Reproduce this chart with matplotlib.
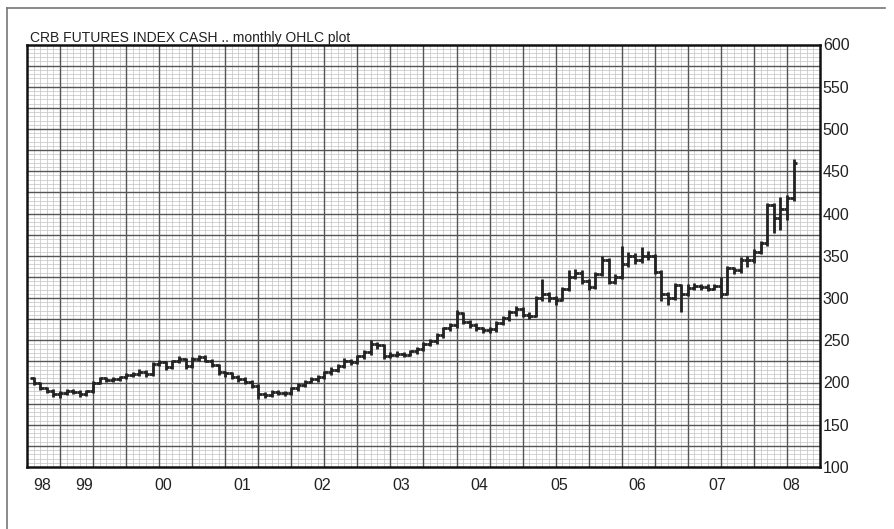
import matplotlib
matplotlib.use("Agg")
import matplotlib.pyplot as plt
from matplotlib.lines import Line2D
import numpy as np

plt.rcParams['font.family'] = ['Liberation Sans', 'DejaVu Sans']

# monthly OHLC values, month index 1..116
opens = [
    205, 199, 193, 190, 186, 188, 190, 189, 186, 190,
    200, 205, 203, 204, 206, 209, 210, 213, 210, 222,
    224, 218, 225, 228, 219, 228, 230, 226, 221, 212,
    211, 207, 204, 201, 196, 186, 185, 189, 188, 187,
    193, 197, 201, 204, 207, 212, 215, 220, 226, 224,
    231, 236, 246, 244, 231, 233, 234, 233, 237, 240,
    246, 249, 256, 264, 268, 282, 272, 268, 264, 262,
    263, 271, 276, 283, 287, 280, 279, 300, 305, 300,
    298, 311, 325, 330, 320, 313, 328, 345, 319, 325,
    340, 350, 345, 350, 350, 331, 305, 300, 315, 305,
    312, 314, 313, 311, 314, 305, 335, 333, 345, 345,
    355, 365, 410, 395, 405, 418,
]
highs = [
    207, 201, 195, 192, 190, 192, 192, 191, 191, 202,
    207, 207, 206, 208, 211, 212, 216, 215, 224, 227,
    226, 227, 231, 229, 230, 233, 232, 228, 222, 214,
    213, 209, 206, 203, 198, 189, 191, 191, 190, 195,
    199, 203, 206, 209, 214, 218, 222, 229, 228, 233,
    238, 250, 248, 246, 236, 237, 236, 239, 242, 248,
    252, 258, 266, 271, 286, 284, 274, 270, 266, 266,
    273, 279, 286, 290, 289, 283, 302, 323, 307, 302,
    313, 333, 334, 333, 322, 331, 350, 347, 328, 362,
    355, 353, 360, 356, 352, 333, 307, 318, 317, 316,
    318, 317, 316, 317, 325, 338, 337, 348, 350, 358,
    368, 413, 412, 420, 422, 465,
]
lows = [
    197, 191, 187, 183, 182, 185, 186, 183, 184, 188,
    198, 201, 201, 202, 204, 207, 208, 207, 208, 220,
    215, 216, 223, 216, 217, 226, 224, 218, 209, 207,
    204, 201, 198, 193, 181, 182, 183, 185, 184, 185,
    190, 195, 199, 201, 204, 209, 212, 217, 221, 222,
    228, 233, 240, 228, 229, 230, 230, 231, 234, 237,
    243, 246, 253, 261, 265, 269, 265, 261, 259, 259,
    260, 268, 273, 279, 277, 275, 277, 296, 295, 292,
    296, 308, 322, 317, 309, 311, 326, 316, 316, 322,
    337, 340, 342, 345, 328, 296, 292, 298, 284, 302,
    310, 309, 308, 309, 300, 303, 328, 330, 337, 342,
    352, 362, 377, 380, 392, 415,
]
closes = [
    199, 193, 190, 186, 188, 190, 189, 186, 190, 200,
    205, 203, 204, 206, 209, 210, 213, 210, 222, 224,
    218, 225, 228, 219, 228, 230, 226, 221, 212, 211,
    207, 204, 201, 196, 186, 185, 189, 188, 187, 193,
    197, 201, 204, 207, 212, 215, 220, 226, 224, 231,
    236, 246, 244, 231, 233, 234, 233, 237, 240, 246,
    249, 256, 264, 268, 282, 272, 268, 264, 262, 263,
    271, 276, 283, 287, 280, 279, 300, 305, 300, 298,
    311, 325, 330, 320, 313, 328, 345, 319, 325, 340,
    350, 345, 350, 350, 331, 305, 300, 315, 305, 312,
    314, 313, 311, 314, 305, 335, 333, 345, 345, 355,
    365, 410, 395, 405, 418, 460,
]

year_labels = ["98", "99", "00", "01", "02", "03", "04", "05", "06", "07", "08"]
year_pos = [2.3, 8.6, 20.6, 32.6, 44.6, 56.6, 68.5, 80.5, 92.4, 104.4, 115.6]
y_labels = [100, 150, 200, 250, 300, 350, 400, 450, 500, 550, 600]

title = "CRB FUTURES INDEX CASH .. monthly OHLC plot"

W, H = 895, 529
fig = plt.figure(figsize=(W / 100, H / 100), dpi=100)
ax = fig.add_axes([27 / W, 1 - 467 / H, (820 - 27) / W, (467 - 44.5) / H])

x0, x1 = 0, 120
y0, y1 = 100, 600
ax.set_xlim(x0, x1)
ax.set_ylim(y0, y1)

# chart-paper grid
ax.vlines(np.arange(x0 + 1, x1), y0, y1, color='#c2c2c2', lw=0.5, zorder=1)
ax.hlines(np.arange(y0 + 5, y1, 5), x0, x1, color='#c2c2c2', lw=0.5, zorder=1)
ax.vlines(np.arange(x0 + 5, x1, 5), y0, y1, color='#555555', lw=1.0, zorder=2)
ax.hlines(np.arange(y0 + 25, y1, 25), x0, x1, color='#555555', lw=1.0, zorder=2)

# OHLC bars
m = np.arange(1, len(closes) + 1)
bar_col = '#222222'
ax.vlines(m, lows, highs, color=bar_col, lw=2.0, zorder=4)
ax.hlines(opens, m - 0.5, m, color=bar_col, lw=2.0, zorder=4)
ax.hlines(closes, m, m + 0.5, color=bar_col, lw=2.0, zorder=4)

for s in ax.spines.values():
    s.set_linewidth(1.8)
    s.set_color('#111111')
    s.set_zorder(5)

ax.yaxis.tick_right()
ax.set_yticks(y_labels)
ax.set_yticklabels([str(v) for v in y_labels])
ax.set_xticks(year_pos)
ax.set_xticklabels(year_labels)
ax.tick_params(axis='y', length=0, pad=2, labelsize=11.5, colors='#222222')
ax.tick_params(axis='x', length=0, pad=8, labelsize=11.5, colors='#222222')

fig.text(30 / W, 1 - 42 / H, title, fontsize=10, color='#222222',
         ha='left', va='baseline')

# outer frame (top and left edges visible)
fig.add_artist(Line2D([7 / W, 885 / W], [1 - 8 / H, 1 - 8 / H],
                      transform=fig.transFigure, color='#777777', lw=1.2))
fig.add_artist(Line2D([7 / W, 7 / W], [1 - 8 / H, 0],
                      transform=fig.transFigure, color='#777777', lw=1.2))

fig.savefig("out.png", dpi=100)
